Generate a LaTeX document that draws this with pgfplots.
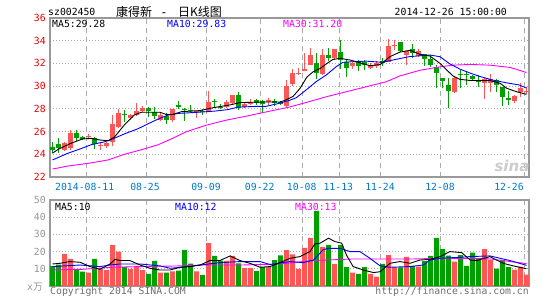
\documentclass[border=0pt]{standalone}
\usepackage{pgfplots}
\pgfplotsset{compat=1.18}
\usepackage{pgfplotstable}
\usepackage{fontspec}
\setmainfont{DejaVu Sans Mono}
\newfontfamily\cjk{Noto Sans CJK SC}
\newfontfamily\sansf{DejaVu Sans}
\definecolor{cred}{RGB}{255,85,85}
\definecolor{cgreen}{RGB}{0,160,0}
\definecolor{framegray}{RGB}{153,153,153}
\definecolor{gridgray}{RGB}{170,170,170}
\definecolor{tickred}{RGB}{230,0,0}
\definecolor{dateblue}{RGB}{0,120,200}
\definecolor{volgray}{RGB}{150,150,150}
\definecolor{txtgray}{RGB}{110,110,110}
\definecolor{maten}{RGB}{0,0,255}
\definecolor{mathirty}{RGB}{255,0,255}
\newcommand{\fs}{\fontsize{9.8}{11}\selectfont}

% candles: index, open, high, low, close
\pgfplotstableread{
i o h l c
2 24.35 25.05 24.25 25.0
3 24.55 26.15 24.4 25.85
6 25.55 25.75 25.4 25.65
8 24.75 25.05 24.35 24.85
9 24.75 25.1 24.55 24.95
10 25.05 27.5 24.7 26.7
11 26.4 28.0 26.3 27.6
13 27.2 27.55 27.05 27.45
14 27.45 28.55 27.4 27.8
15 27.85 28.25 27.75 28.1
18 27.0 27.65 26.9 27.45
20 27.05 28.0 26.8 27.95
24 27.72 27.85 27.2 27.82
26 27.75 29.55 27.7 28.6
29 28.2 28.75 28.1 28.6
30 28.5 29.25 28.35 29.2
32 28.2 28.55 28.1 28.4
33 28.4 28.85 28.3 28.6
36 28.62 28.92 28.3 28.8
39 28.25 30.55 28.1 30.0
40 30.15 31.5 30.0 31.15
41 31.05 31.6 31.0 31.2
42 31.35 32.95 31.3 31.5
43 31.9 33.4 31.85 32.75
45 31.1 33.3 30.95 32.7
47 32.45 33.3 32.3 33.25
50 31.8 32.1 31.5 32.0
53 31.6 32.0 31.55 31.85
54 31.8 32.2 31.6 32.05
56 32.15 34.15 32.1 33.55
57 33.55 34.05 33.2 33.65
59 32.75 33.15 31.85 33.1
61 32.65 33.25 32.6 33.1
67 29.5 30.8 29.4 30.7
72 30.25 30.7 28.9 30.6
73 30.3 31.05 29.5 30.6
77 28.7 29.2 28.55 29.1
78 29.5 30.25 29.05 29.8
79 29.45 29.95 29.3 29.6
}\redtab
\pgfplotstableread{
i o h l c
0 24.6 25.05 24.1 24.4
1 24.9 25.45 24.15 24.55
4 25.85 26.1 25.2 25.45
5 25.48 25.6 25.25 25.38
7 25.4 25.55 24.5 24.9
12 27.57 27.9 26.85 27.47
16 28.1 28.2 27.25 27.8
17 27.7 28.2 27.1 27.4
19 27.4 27.6 26.65 27.05
21 28.35 28.7 27.95 28.2
22 28.0 28.05 26.95 27.9
23 27.87 28.3 27.6 27.77
25 27.85 28.0 27.45 27.72
27 28.68 28.9 28.15 28.58
28 28.2 28.4 27.95 28.1
31 29.2 29.5 27.9 28.05
34 28.75 28.85 28.35 28.5
35 28.7 28.8 27.6 28.45
37 28.7 28.85 28.25 28.5
38 28.6 28.7 28.3 28.45
44 32.0 32.9 30.6 31.2
46 32.75 33.4 32.2 32.5
48 33.05 34.05 31.55 32.3
49 32.1 32.3 30.8 31.6
51 32.1 32.3 31.3 31.8
52 32.15 32.3 31.4 31.85
55 32.2 32.45 31.8 32.0
58 33.85 33.9 33.0 33.1
60 33.3 33.7 32.45 32.9
62 32.8 32.85 31.75 32.35
63 32.35 32.75 31.7 31.9
64 31.7 31.85 29.8 31.2
65 30.7 30.7 29.8 30.45
66 30.1 30.7 28.05 29.55
68 31.05 31.4 29.8 30.95
69 31.05 31.3 30.1 30.95
70 30.9 31.0 30.5 30.65
71 30.5 30.95 29.95 30.35
74 30.5 30.6 29.5 30.1
75 29.9 29.95 28.25 29.05
76 28.92 29.55 28.3 28.82
}\greentab
% volume (x10^4)
\pgfplotstableread{
i v
2 18.6
3 15.7
6 7.8
8 9.8
9 9.3
10 23.8
11 20
13 9.9
14 11.7
15 9.3
18 7.8
20 8.5
24 8.5
26 25
29 14.6
30 17.5
32 10.4
33 10.4
36 11
39 20.8
40 18.4
41 9.9
42 22.2
43 28
45 22.7
47 12.8
50 7.8
53 7
54 5.4
56 18
57 10.9
59 17
61 11.3
67 14.2
72 21.5
73 15.1
77 9.5
78 11.3
79 6.6
}\redvol
\pgfplotstableread{
i v
0 11.5
1 12.5
4 9.8
5 8.3
7 15.7
12 11.1
16 7.0
17 14.6
19 7.8
21 9.0
22 21
23 13
25 6.5
27 17.5
28 14.8
31 13.2
34 8.6
35 11
37 15.1
38 17.8
44 43.7
46 23.9
48 23.9
49 11
51 7
52 11
55 12.8
58 10.9
60 11.7
62 14.4
63 17.5
64 28
65 21.5
66 17.7
68 18
69 11.7
70 19.4
71 16.1
74 10.1
75 15.1
76 11
}\greenvol

\pgfplotsset{
  wick/.style={draw=none, mark=none, forget plot,
    error bars/.cd, y dir=plus, y explicit, error mark=none,
    error bar style={draw=#1, line width=1pt}},
  body/.style={draw=none, mark=none, forget plot,
    error bars/.cd, y dir=plus, y explicit, error mark=none,
    error bar style={draw=#1, line width=5pt}},
  kbase/.style={
    scale only axis, width=479pt,
    xmin=-0.417, xmax=79.417,
    axis line style={draw=framegray, line width=1.2pt},
    xtick={5.7,15.7,25.7,34.7,41.7,47.8,54.7,64.7,78.6},
    xticklabels={},
    xmajorgrids, ymajorgrids,
    x grid style={draw=gridgray, dash pattern=on 5pt off 4pt, line width=0.8pt},
    y grid style={draw=gridgray, dash pattern=on 1pt off 2pt, line width=0.8pt},
    major tick length=0pt,
    /pgf/number format/assume math mode=true,
    tick label style={font=\fs, inner sep=0pt},
    yticklabel style={xshift=-4pt},
  },
}

\begin{document}
\begin{tikzpicture}[x=1pt,y=1pt]
\useasboundingbox (0,0) rectangle (545,300);

% ---------- price panel ----------
\begin{axis}[kbase, at={(50pt,123pt)}, anchor=south west, height=159pt,
  ymin=22, ymax=36, ytick={22,24,...,36},
  yticklabel style={text=tickred}]
\addplot[wick=cred] table[x=i, y=l, y error expr=\thisrow{h}-\thisrow{l}] {\redtab};
\addplot[body=cred] table[x=i, y=o, y error expr=\thisrow{c}-\thisrow{o}] {\redtab};
\addplot[wick=cgreen] table[x=i, y=l, y error expr=\thisrow{h}-\thisrow{l}] {\greentab};
\addplot[body=cgreen] table[x=i, y=c, y error expr=\thisrow{o}-\thisrow{c}] {\greentab};
% MA30
\addplot[mathirty, line width=0.9pt, mark=none] coordinates {
(0,22.7) (2.6,22.97) (5.9,23.2) (9.25,23.5) (12,24.0) (14.8,24.4) (17.6,24.84)
(19.8,25.35) (22.25,25.98) (25.6,26.56) (28.9,27.0) (32.25,27.35) (35.6,27.73)
(39.5,28.16) (42.25,28.56) (45.6,29.06) (48.9,29.5) (52.25,29.94) (55.6,30.38)
(57.9,30.9) (61.25,31.4) (64.6,31.7) (66.75,31.85) (69.6,31.91) (72.9,31.85)
(76.25,31.65) (79,31.2)};
% MA10
\addplot[maten, line width=0.9pt, mark=none] coordinates {
(0,23.5) (2.6,24.1) (4.75,24.5) (6.5,24.85) (8.7,25.1) (9.8,25.3) (12,25.8)
(14.25,26.25) (15.9,26.68) (17.6,27.1) (19.25,27.45) (21,27.6) (23.4,27.67)
(27,27.8) (29.2,27.93) (30.9,28.15) (33.9,28.22) (35.6,28.22) (37.5,28.45)
(39.5,28.75) (40.6,28.97) (42.25,29.65) (43.9,30.38) (45.6,30.97) (47.25,31.7)
(48.4,32.1) (50,32.15) (52.25,32.2) (55,32.1) (56.7,32.3) (59.5,32.6)
(62.9,32.74) (64.6,32.59) (66.1,32.0) (67.9,31.5) (69.6,31.15) (71.25,30.85)
(73.4,30.53) (75.6,30.3) (77.8,30.1) (79,29.83)};
% MA5
\addplot[black, line width=0.9pt, mark=none] coordinates {
(0,24.1) (1,24.45) (3,24.95) (5,25.35) (6.5,25.4) (8,25.25) (9.3,25.2)
(10.3,25.5) (12,26.6) (13.6,27.45) (14.8,27.7) (17.9,27.7) (19,27.5) (20,27.5)
(21.5,27.75) (24.6,27.85) (26.75,28.1) (29.6,28.35) (31.25,28.55) (34.6,28.6)
(37.9,28.6) (38.75,28.75) (40.1,29.1) (41.25,29.8) (42.4,30.8) (43.4,31.25)
(44.6,31.55) (45.75,32.0) (46.75,32.35) (47.9,32.45) (49.6,32.3) (51.25,32.05)
(52.9,31.8) (54.6,31.9) (56.25,32.6) (57.9,33.0) (59.6,33.15) (61.25,32.8)
(62.9,32.65) (64.6,32.0) (65.75,31.4) (66.75,30.9) (67.9,30.6) (69.6,30.5)
(71.25,30.5) (72.9,30.5) (74.6,30.25) (75.75,29.8) (77.4,29.5) (79,29.28)};
\end{axis}

% ---------- volume panel ----------
\begin{axis}[kbase, at={(50pt,14pt)}, anchor=south west, height=86pt,
  ymin=0, ymax=50, ytick={10,20,30,40,50},
  yticklabel style={text=volgray}]
\addplot[ybar, bar width=5pt, bar shift=0pt, fill=cred, draw=none, forget plot] table[x=i, y=v] {\redvol};
\addplot[ybar, bar width=5pt, bar shift=0pt, fill=cgreen, draw=none, forget plot] table[x=i, y=v] {\greenvol};
\addplot[mathirty, line width=0.9pt, mark=none] coordinates {
(0,9.3) (5,9.7) (10,10.9) (15,11.3) (21.5,11.7) (25,12.2) (31.5,12.2) (37.9,12.8)
(43.4,14.8) (50,15.7) (60,15.7) (64.5,16.1) (70,16.1) (73,15.7) (75,14.8) (79,13)};
\addplot[maten, line width=0.9pt, mark=none] coordinates {
(0,11.3) (4.6,12.2) (7.9,11.3) (9.6,12.2) (11.25,12.8) (14.6,12.8) (17.9,11.7)
(19.6,10.3) (22.9,11.3) (24.6,12.2) (27.9,13.6) (31.25,14.2) (34.6,14.2)
(36.25,12.5) (39.6,14.2) (41.8,13.6) (43.5,15.1) (45.1,21) (45.9,21.9) (47.9,21.9)
(49.6,20) (51.25,20) (52.9,16.1) (54.6,11.7) (56.25,10.9) (59.6,11.3) (61.8,12.2)
(62.9,15.1) (64.6,16.1) (68,16.7) (69.6,17.1) (72.9,17.5) (74.6,16.1) (76.25,14.8)
(79,12)};
\addplot[black, line width=0.9pt, mark=none] coordinates {
(0,12.8) (1.25,13.2) (2.9,14.2) (4.6,13.8) (6.25,11.3) (7.9,9.7) (9.6,12.8)
(10.4,15.5) (11.25,14.8) (12.9,14.8) (14.6,12.2) (16.25,10.3) (17.9,9.3) (19.6,9.3)
(21.25,10.9) (22.9,11.3) (24.6,12.2) (26.25,14.8) (27.9,14.8) (29.6,17.5)
(31.25,14.8) (32.9,13.2) (34.6,10.9) (36.25,11.3) (37.9,13.6) (39.6,16.1)
(41.25,17.1) (42.9,20) (43.75,24.5) (44.6,24.9) (46,27.8) (47.1,25.8) (48.2,24.9)
(49,18) (50.1,11.3) (51.8,9.3) (53.5,7.8) (54.6,8.3) (56.25,13.2) (57.9,14.2)
(59.6,13.2) (61.25,15.1) (62.9,15.5) (64.6,17.1) (66.25,20) (68.2,19.4) (69.6,15.1)
(70.7,14.8) (72.9,17.1) (75.1,13.2) (76.8,11.7) (79,10)};
\end{axis}

% ---------- texts ----------
\tikzset{lab/.style={inner sep=0pt, font=\fs}}
\node[lab, anchor=west] at (48,288.3) {sz002450};
\node[lab, anchor=west, font=\cjk\fontsize{12}{13}\selectfont] at (116,288.3) {康得新};
\node[lab, anchor=base, font=\fontsize{12}{13}\selectfont] at (164,283.8) {-};
\node[lab, anchor=west, font=\cjk\fontsize{12}{13}\selectfont] at (178,288.3) {日K线图};
\node[lab, anchor=east] at (507,288.3) {2014-12-26 15:00:00};

\node[lab, anchor=west] at (52,276) {MA5:29.28};
\node[lab, anchor=west, text=maten] at (167,276) {MA10:29.83};
\node[lab, anchor=west, text=mathirty] at (283,276) {MA30:31.20};

\node[lab, anchor=west] at (55,93.5) {MA5:10};
\node[lab, anchor=west, text=maten] at (175,93.5) {MA10:12};
\node[lab, anchor=west, text=mathirty] at (295,93.5) {MA30:13};

\foreach \xx/\tt in {84.7/2014-08-11, 145/08-25, 206/09-09, 259.7/09-22, 301.7/10-08, 338.3/11-13, 380/11-24, 440/12-08, 509/12-26}
  \node[lab, text=dateblue] at (\xx,113.5) {\tt};

\node[lab, anchor=east, text=volgray] at (43,13) {x{\cjk 万}};
\node[lab, anchor=west, text=txtgray] at (50,8) {Copyright 2014 SINA.COM};
\node[lab, anchor=east, text=txtgray] at (529,8) {http://finance.sina.com.cn};

\node[inner sep=0pt, text=gray!40, font=\sansf\bfseries\itshape\fontsize{15}{15}\selectfont] at (512,134) {sina};
\end{tikzpicture}
\end{document}
